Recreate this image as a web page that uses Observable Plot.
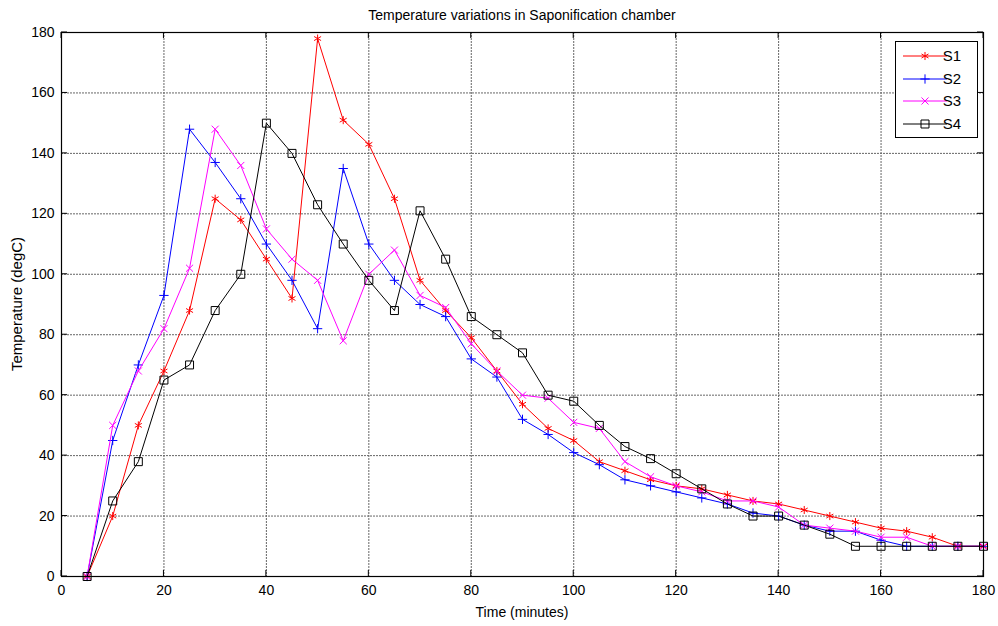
<!DOCTYPE html>
<html>
<head>
<meta charset="utf-8">
<script src="https://cdn.jsdelivr.net/npm/d3@7"></script>
<script src="https://cdn.jsdelivr.net/npm/@observablehq/plot@0.6"></script>
<style>
  html, body { margin: 0; padding: 0; background: #fff; }
  svg { display: block; }
</style>
</head>
<body>
<div id="chart"></div>
<script>
const title = "Temperature variations in Saponification chamber";
const xLabel = "Time (minutes)";
const yLabel = "Temperature (degC)";
const xTicks = [0, 20, 40, 60, 80, 100, 120, 140, 160, 180];
const yTicks = [0, 20, 40, 60, 80, 100, 120, 140, 160, 180];

const time = [5, 10, 15, 20, 25, 30, 35, 40, 45, 50, 55, 60, 65, 70, 75, 80, 85, 90, 95, 100,
              105, 110, 115, 120, 125, 130, 135, 140, 145, 150, 155, 160, 165, 170, 175, 180];
const S1 = [0, 20, 50, 68, 88, 125, 118, 105, 92, 178, 151, 143, 125, 98, 88, 79, 68, 57, 49, 45,
            38, 35, 32, 30, 29, 27, 25, 24, 22, 20, 18, 16, 15, 13, 10, 10];
const S2 = [0, 45, 70, 93, 148, 137, 125, 110, 98, 82, 135, 110, 98, 90, 86, 72, 66, 52, 47, 41,
            37, 32, 30, 28, 26, 24, 21, 20, 17, 15, 15, 12, 10, 10, 10, 10];
const S3 = [0, 50, 68, 82, 102, 148, 136, 115, 105, 98, 78, 100, 108, 93, 89, 77, 68, 60, 59, 51,
            49, 38, 33, 30, 28, 25, 25, 23, 17, 16, 15, 13, 13, 10, 10, 10];
const S4 = [0, 25, 38, 65, 70, 88, 100, 150, 140, 123, 110, 98, 88, 121, 105, 86, 80, 74, 60, 58,
            50, 43, 39, 34, 29, 24, 20, 20, 17, 14, 10, 10, 10, 10, 10, 10];

const seriesNames = ["S1", "S2", "S3", "S4"];
const seriesValues = [S1, S2, S3, S4];
const seriesColors = ["#ff0000", "#0000ff", "#ff00ff", "#000000"];
const seriesSymbols = ["asterisk", "plus", "times", "square"];
const seriesR = [3.8, 3.1, 3.3, 4.5];

const rows = seriesNames.map((name, i) =>
  time.map((t, j) => ({series: name, time: t, temp: seriesValues[i][j]})));

const font = "Arial, 'Liberation Sans', Helvetica, sans-serif";

const marks = [
  Plot.gridX(xTicks, {stroke: "#666", strokeOpacity: 1, strokeDasharray: "2,1", strokeWidth: 1}),
  Plot.gridY(yTicks, {stroke: "#666", strokeOpacity: 1, strokeDasharray: "2,1", strokeWidth: 1}),
  Plot.axisX(xTicks, {tickSize: 0, tickPadding: 9, label: null, fontSize: 14, fill: "#000"}),
  Plot.axisY(yTicks, {tickSize: 0, tickPadding: 7, label: null, fontSize: 14, fill: "#000"})
];
rows.forEach((data, i) => {
  marks.push(Plot.line(data, {x: "time", y: "temp", stroke: seriesColors[i], strokeWidth: 1}));
  marks.push(Plot.dot(data, {x: "time", y: "temp", stroke: seriesColors[i], fill: "none",
    symbol: seriesSymbols[i], r: seriesR[i], strokeWidth: 1}));
});
marks.push(Plot.frame({stroke: "#000", strokeWidth: 1.2}));

const chart = Plot.plot({
  width: 998,
  height: 626,
  marginLeft: 61,
  marginRight: 15,
  marginTop: 32,
  marginBottom: 50,
  style: {fontFamily: font, fontSize: "14px", background: "#fff", color: "#000"},
  x: {domain: [0, 180]},
  y: {domain: [0, 180]},
  marks
});

document.getElementById("chart").appendChild(chart);

// Post-render decorations: inward ticks, title, axis labels, legend
const svg = d3.select(chart);
const xs = chart.scale("x"), ys = chart.scale("y");
const x0 = xs.apply(0), x1 = xs.apply(180), y0 = ys.apply(0), y1 = ys.apply(180);
const tk = 6;
const deco = svg.append("g").attr("stroke", "#000").attr("stroke-width", 1);
xTicks.forEach(v => {
  const px = xs.apply(v);
  deco.append("line").attr("x1", px).attr("x2", px).attr("y1", y0).attr("y2", y0 - tk);
  deco.append("line").attr("x1", px).attr("x2", px).attr("y1", y1).attr("y2", y1 + tk);
});
yTicks.forEach(v => {
  const py = ys.apply(v);
  deco.append("line").attr("y1", py).attr("y2", py).attr("x1", x0).attr("x2", x0 + tk);
  deco.append("line").attr("y1", py).attr("y2", py).attr("x1", x1).attr("x2", x1 - tk);
});

const cx = (x0 + x1) / 2, cy = (y0 + y1) / 2;
svg.append("text").attr("x", cx).attr("y", 20).attr("text-anchor", "middle")
  .attr("font-family", font).attr("font-size", 14).attr("fill", "#000").text(title);
svg.append("text").attr("x", cx).attr("y", 617).attr("text-anchor", "middle")
  .attr("font-family", font).attr("font-size", 14).attr("fill", "#000").text(xLabel);
svg.append("text").attr("transform", `translate(22,${cy}) rotate(-90)`).attr("text-anchor", "middle")
  .attr("font-family", font).attr("font-size", 15).attr("fill", "#000").text(yLabel);

// Legend
const lg = svg.append("g");
lg.append("rect").attr("x", 895.5).attr("y", 41.5).attr("width", 82).attr("height", 96)
  .attr("fill", "#fff").attr("stroke", "#000").attr("stroke-width", 1);
const legY = [56, 79, 101, 124];
seriesNames.forEach((name, i) => {
  const y = legY[i];
  lg.append("line").attr("x1", 903).attr("x2", 947).attr("y1", y).attr("y2", y)
    .attr("stroke", seriesColors[i]).attr("stroke-width", 1);
  const symMap = {asterisk: d3.symbolAsterisk, plus: d3.symbolPlus, times: d3.symbolTimes, square: d3.symbolSquare};
  lg.append("path").attr("transform", `translate(925,${y})`)
    .attr("d", d3.symbol(symMap[seriesSymbols[i]], Math.PI * seriesR[i] * seriesR[i])())
    .attr("fill", "none").attr("stroke", seriesColors[i]).attr("stroke-width", 1);
  lg.append("text").attr("x", 952).attr("y", y + 5).attr("font-family", font)
    .attr("font-size", 15).attr("fill", "#000").text(name);
});
</script>
</body>
</html>
